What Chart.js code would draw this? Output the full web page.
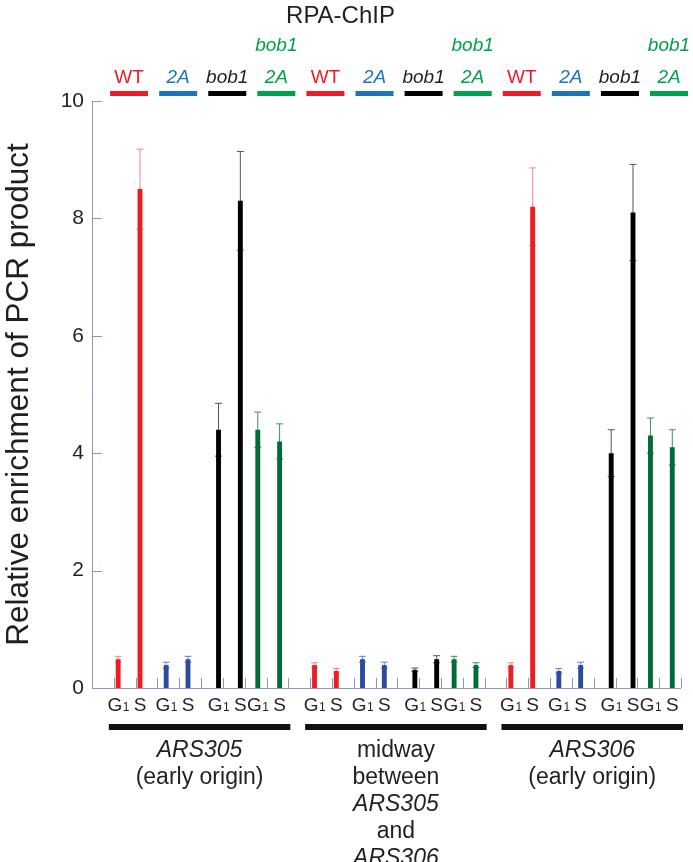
<!DOCTYPE html>
<html><head><meta charset="utf-8">
<script src="https://cdn.jsdelivr.net/npm/chart.js@4/dist/chart.umd.min.js"></script>
<style>html,body{margin:0;padding:0;background:#fff;}#wrap{position:relative;width:693px;height:862px;}</style>
</head><body><div id="wrap"><canvas id="c" width="693" height="862"></canvas></div>
<script>
// ---------- data ----------
const chartTitle = 'RPA-ChIP';
const yAxisTitle = 'Relative enrichment of PCR product';
const locations = ['ARS305', 'midway', 'ARS306'];
const locationLabels = [
  [['ARS305', true], ['(early origin)', false]],
  [['midway', false], ['between', false], ['ARS305', true], ['and', false], ['ARS306', true]],
  [['ARS306', true], ['(early origin)', false]]
];
const strains = ['WT', '2A', 'bob1', 'bob1 2A'];
const strainLabels = [[['WT', false]], [['2A', true]], [['bob1', true]], [['bob1', true], ['2A', true]]];
const phases = ['G₁', 'S'];
const yTicks = [0, 2, 4, 6, 8, 10];
// values per strain: [ARS305 G1, ARS305 S, mid G1, mid S, ARS306 G1, ARS306 S]
const wtValues    = [0.49, 8.50, 0.39, 0.29, 0.39, 8.20];
const wtErrors    = [0.05, 0.68, 0.04, 0.04, 0.04, 0.66];
const a2Values    = [0.39, 0.49, 0.49, 0.39, 0.29, 0.39];
const a2Errors    = [0.05, 0.05, 0.05, 0.05, 0.04, 0.05];
const bob1Values  = [4.40, 8.30, 0.31, 0.49, 4.00, 8.10];
const bob1Errors  = [0.45, 0.84, 0.03, 0.06, 0.40, 0.82];
const b2aValues   = [4.40, 4.20, 0.49, 0.39, 4.30, 4.10];
const b2aErrors   = [0.30, 0.30, 0.05, 0.04, 0.30, 0.30];

// ---------- styles ----------
const FONT = '"Liberation Sans", Arial, Helvetica, sans-serif';
const TEXT = '#231f20';
const AXIS = '#8a94c6';
const barColors = ['#ee1d24', '#2c4a9e', '#000000', '#006a3a'];
const errColors = ['#f2878b', '#6b7ec2', '#555555', '#3c8e63'];
const headColors = ['#ed1c24', '#1c75bc', '#000000', '#00a14b'];
const headTextColors = ['#ed1c24', '#1c75bc', '#231f20', '#00a14b'];

const valueSets = [wtValues, a2Values, bob1Values, b2aValues];
const errorSets = [wtErrors, a2Errors, bob1Errors, b2aErrors];

// categories: one empty slot then G1/S per strain, for each location
const categories = [];
const slotInfo = [];
locations.forEach((loc, l) => {
  categories.push(''); slotInfo.push(null);
  strains.forEach((s, si) => phases.forEach((p, pi) => {
    categories.push(p); slotInfo.push({ strain: si, loc: l, phase: pi });
  }));
});

// grouped bar sub-slot order (left to right inside a slot)
const groupOrder = [0, 1, 3, 2];
const datasets = groupOrder.map(si => ({
  label: strains[si],
  data: slotInfo.map(info => (info && info.strain === si) ? valueSets[si][info.loc * 2 + info.phase] : null),
  backgroundColor: barColors[si],
  borderWidth: 0,
  categoryPercentage: 0.8,
  barPercentage: 1.12
}));

function barX(chart, si, loc, phase) {
  const di = groupOrder.indexOf(si);
  const slot = loc * 9 + 1 + si * 2 + phase;
  return chart.getDatasetMeta(di).data[slot].x;
}

const errorPlugin = {
  id: 'errorBars',
  beforeDatasetsDraw(chart) {
    const ctx = chart.ctx, y = chart.scales.y;
    ctx.save();
    strains.forEach((s, si) => {
      for (let l = 0; l < 3; l++) for (let p = 0; p < 2; p++) {
        const v = valueSets[si][l * 2 + p], e = errorSets[si][l * 2 + p];
        const x = barX(chart, si, l, p);
        const yt = y.getPixelForValue(v + e), yb = y.getPixelForValue(v - e);
        ctx.strokeStyle = errColors[si]; ctx.lineWidth = 1;
        ctx.beginPath();
        ctx.moveTo(x, yt); ctx.lineTo(x, yb);
        ctx.moveTo(x - 3.5, yt); ctx.lineTo(x + 3.5, yt);
        ctx.moveTo(x - 3.5, yb); ctx.lineTo(x + 3.5, yb);
        ctx.stroke();
      }
    });
    ctx.restore();
  }
};

const decorPlugin = {
  id: 'decor',
  afterDatasetsDraw(chart) {
    const ctx = chart.ctx, xs = chart.scales.x, ys = chart.scales.y;
    const area = chart.chartArea;
    ctx.save();
    ctx.strokeStyle = AXIS; ctx.lineWidth = 1;
    ctx.beginPath();
    ctx.moveTo(area.left + 0.5, area.top); ctx.lineTo(area.left + 0.5, area.bottom + 0.5);
    ctx.lineTo(area.right, area.bottom + 0.5);
    ctx.stroke();
    ctx.beginPath();
    yTicks.forEach(t => {
      const py = Math.round(ys.getPixelForValue(t)) + 0.5;
      ctx.moveTo(area.left, py); ctx.lineTo(area.left + 10, py);
    });
    ctx.stroke();
    const slotW = (xs.getPixelForValue(1) - xs.getPixelForValue(0));
    ctx.beginPath();
    for (let k = 1; k <= categories.length; k++) {
      const px = Math.round(xs.getPixelForValue(k - 1) + slotW / 2) + 0.5;
      ctx.moveTo(px, area.bottom); ctx.lineTo(px, area.bottom - 10);
    }
    ctx.stroke();

    // header strain labels and coloured bars
    const strainStep = 9 * slotW / 4;
    for (let l = 0; l < 3; l++) {
      const wtMid = (barX(chart, 0, l, 0) + barX(chart, 0, l, 1)) / 2;
      strains.forEach((s, si) => {
        const cx = wtMid + si * strainStep;
        ctx.fillStyle = headColors[si];
        ctx.fillRect(cx - 19, 91, 38, 5);
        const lines = strainLabels[si];
        ctx.fillStyle = headTextColors[si];
        ctx.textAlign = 'center'; ctx.textBaseline = 'alphabetic';
        lines.forEach((ln, i) => {
          const base = 83 - (lines.length - 1 - i) * 32;
          ctx.font = (ln[1] ? 'italic ' : '') + '19px ' + FONT;
          ctx.fillText(ln[0], cx, base);
        });
      });
    }

    // x phase labels
    ctx.fillStyle = TEXT; ctx.textBaseline = 'alphabetic';
    for (let l = 0; l < 3; l++) strains.forEach((s, si) => phases.forEach((p, pi) => {
      const x = barX(chart, si, l, pi);
      if (p.length > 1) {
        ctx.font = '19px ' + FONT;
        const wG = ctx.measureText(p[0]).width;
        ctx.font = '12px ' + FONT;
        const w1 = ctx.measureText('1').width;
        const x0 = x - (wG + w1) / 2;
        ctx.textAlign = 'left';
        ctx.font = '19px ' + FONT; ctx.fillText(p[0], x0, 711);
        ctx.font = '12px ' + FONT; ctx.fillText('1', x0 + wG + 0.5, 711);
      } else {
        ctx.font = '19px ' + FONT; ctx.textAlign = 'center';
        ctx.fillText(p, x, 711);
      }
    }));

    // group rulers and labels
    for (let l = 0; l < 3; l++) {
      const first = xs.getPixelForValue(l * 9 + 1) - slotW / 2 - 5;
      const last = xs.getPixelForValue(l * 9 + 8) + slotW / 2 + 2;
      ctx.fillStyle = '#111111';
      ctx.fillRect(first, 724, last - first, 6);
      const cx = (first + last) / 2;
      ctx.fillStyle = TEXT; ctx.textAlign = 'center'; ctx.textBaseline = 'middle';
      locationLabels[l].forEach((ln, i) => {
        ctx.font = (ln[1] ? 'italic ' : '') + '23px ' + FONT;
        ctx.fillText(ln[0], cx, 751 + i * 26.8);
      });
    }
    ctx.restore();
  }
};

new Chart(document.getElementById('c'), {
  type: 'bar',
  data: { labels: categories, datasets },
  options: {
    responsive: false, animation: false,
    layout: { padding: { top: 0, right: 12, left: 0, bottom: 0 } },
    plugins: {
      legend: { display: false }, tooltip: { enabled: false },
      title: { display: true, text: chartTitle, color: TEXT,
        font: { family: FONT, size: 24, weight: 'normal', lineHeight: 1.2 },
        padding: { top: 2, bottom: 70.2 } }
    },
    scales: {
      x: { type: 'category', offset: true,
        grid: { display: false, drawTicks: false }, border: { display: false },
        ticks: { display: false },
        afterFit(s) { s.height = 174; } },
      y: { min: 0, max: 10,
        afterBuildTicks(s) { s.ticks = yTicks.map(v => ({ value: v })); },
        ticks: { font: { family: FONT, size: 21 }, color: TEXT, padding: 8 },
        grid: { display: false, drawTicks: false }, border: { display: false },
        title: { display: true, text: yAxisTitle, color: TEXT, padding: 0,
          font: { family: FONT, size: 31.5, weight: 'normal' } },
        afterFit(s) { s.width = 92; } }
    }
  },
  plugins: [errorPlugin, decorPlugin]
});
</script></body></html>
